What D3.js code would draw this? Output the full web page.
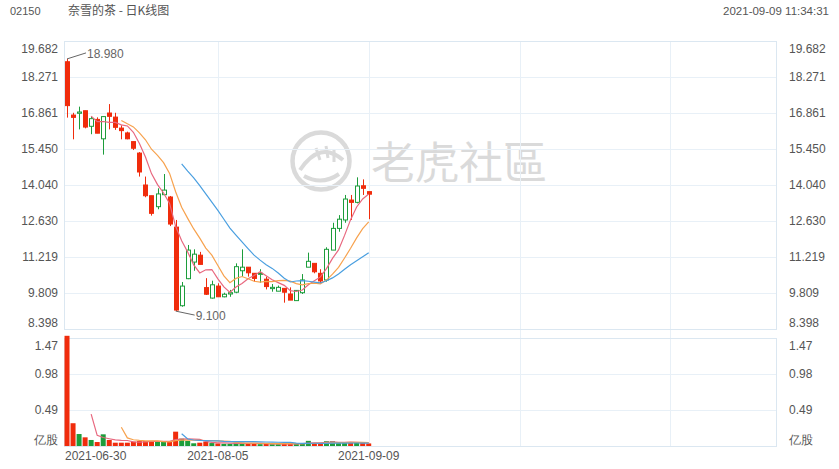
<!DOCTYPE html>
<html><head><meta charset="utf-8">
<script src="https://cdn.jsdelivr.net/npm/d3@7"></script>
<style>body{margin:0;background:#fff;} svg{display:block;font-family:"Liberation Sans",Arial,sans-serif;}</style>
</head><body><svg id="c" width="839" height="469"></svg>
<script>
const dates = ["2021-06-30",
 "2021-07-02","2021-07-05","2021-07-06","2021-07-07","2021-07-08","2021-07-09","2021-07-12","2021-07-13","2021-07-14","2021-07-15","2021-07-16","2021-07-19","2021-07-20","2021-07-21","2021-07-22","2021-07-23","2021-07-26","2021-07-27","2021-07-28","2021-07-29","2021-07-30",
 "2021-08-02","2021-08-03","2021-08-04","2021-08-05","2021-08-06","2021-08-09","2021-08-10","2021-08-11","2021-08-12","2021-08-13","2021-08-16","2021-08-17","2021-08-18","2021-08-19","2021-08-20","2021-08-23","2021-08-24","2021-08-25","2021-08-26","2021-08-27","2021-08-30","2021-08-31",
 "2021-09-01","2021-09-02","2021-09-03","2021-09-06","2021-09-07","2021-09-08","2021-09-09"];
const open  = [18.87,16.78,16.85,16.95,16.34,16.61,15.85,16.86,16.70,16.27,16.08,15.74,15.29,14.04,13.62,13.19,13.66,13.57,12.39,9.31,10.37,11.02,11.29,10.02,9.61,10.08,9.66,9.77,9.84,10.68,10.82,10.58,10.54,10.35,9.98,9.88,9.99,9.77,9.51,9.82,10.82,10.97,10.58,10.32,11.49,12.34,12.67,13.45,13.36,14.01,13.78];
const high  = [18.98,16.87,17.11,16.95,16.72,16.69,16.74,17.21,16.87,16.38,16.13,15.74,15.33,14.37,13.62,13.91,14.47,13.61,12.67,10.24,11.69,11.52,11.42,10.39,10.29,10.19,9.82,9.93,10.97,11.52,10.82,10.58,10.74,10.45,10.16,10.10,9.99,10.03,9.91,10.55,11.39,10.97,10.74,11.60,12.56,12.86,13.65,13.65,14.34,14.26,13.78];
const low   = [16.68,15.83,16.22,16.26,16.03,16.07,15.23,16.22,16.20,15.83,15.83,15.41,14.37,13.56,12.84,13.09,13.66,12.43,9.10,9.27,10.35,10.68,10.93,9.73,9.59,9.66,9.64,9.66,9.80,10.45,10.45,10.25,10.21,9.95,9.86,9.88,9.43,9.53,9.51,9.77,10.82,10.58,10.19,10.25,11.49,12.21,12.56,12.67,13.32,13.65,12.70];
const close = [17.15,16.69,16.90,16.31,16.64,16.07,16.72,16.73,16.30,16.17,15.85,15.48,14.55,13.62,12.93,13.69,13.84,12.51,9.14,10.08,11.49,11.33,10.93,9.76,10.13,9.66,9.76,9.82,10.84,10.82,10.60,10.38,10.58,10.06,10.03,10.03,9.84,9.53,9.91,10.32,11.05,10.64,10.28,11.52,12.34,12.70,13.49,13.36,14.00,13.91,13.68];
const volume = [1.50,0.31,0.163,0.118,0.082,0.054,0.159,0.082,0.045,0.045,0.045,0.059,0.068,0.068,0.068,0.059,0.054,0.064,0.195,0.10,0.068,0.037,0.045,0.059,0.04,0.035,0.03,0.03,0.045,0.045,0.035,0.03,0.025,0.03,0.025,0.025,0.035,0.03,0.03,0.04,0.07,0.04,0.035,0.065,0.065,0.04,0.05,0.045,0.05,0.04,0.035];
const priceTicks = [8.398, 9.809, 11.219, 12.630, 14.040, 15.450, 16.861, 18.271, 19.682];
const volTicks = [0, 0.49, 0.98, 1.47];
const dateTicks = ["2021-06-30","2021-08-05","2021-09-09"];
const maPeriods = [5, 10, 20];
const maColors = ["#e8687f", "#f7a24e", "#4a9fe0"];
const totalSlots = 118;
const extraGridSlots = [75, 100];
const highLabel = "18.980", lowLabel = "9.100";

const UP = "#1c9d3b", DOWN = "#f02c0c", TXT = "#555", GRID = "#e8f0f7", BORDER = "#dbe7f1";
const L = 64, R = 776, PT = 41, PB = 329, VT = 338, VB = 446;
const svg = d3.select("#c");

// watermark
const wm = svg.append("g").attr("fill", "none").attr("stroke", "#dadada");
wm.append("circle").attr("cx", 321).attr("cy", 161).attr("r", 28.5).attr("stroke-width", 4.5);
wm.append("path").attr("d", "M300,170 Q320,140 343,160").attr("stroke-width", 4);
wm.append("path").attr("d", "M304,176 Q322,186 339,174").attr("stroke-width", 4);
wm.append("path").attr("d", "M316,148 L320,160 M326,146 L328,158 M334,150 L334,162").attr("stroke-width", 3);
svg.append("text").attr("x", 371).attr("y", 179).attr("font-size", 44)
  .attr("font-family", "'Noto Sans CJK TC','Noto Sans CJK SC',sans-serif")
  .attr("fill", "#dadada").text("老虎社區");

const x = d3.scaleBand().domain(d3.range(totalSlots)).range([L, R]);
const cx = i => x(i) + x.bandwidth() / 2;
const y = d3.scaleLinear().domain([priceTicks[0], priceTicks[priceTicks.length - 1]]).range([PB, PT]);
const yv = d3.scaleLinear().domain([0, volTicks[volTicks.length - 1]]).range([VB, VT]);

// grid
const g = svg.append("g").attr("shape-rendering", "crispEdges");
g.selectAll(".hp").data(priceTicks).join("line")
  .attr("x1", L).attr("x2", R).attr("y1", d => Math.round(y(d)) + 0.5).attr("y2", d => Math.round(y(d)) + 0.5)
  .attr("stroke", GRID);
g.selectAll(".hv").data(volTicks).join("line")
  .attr("x1", L).attr("x2", R).attr("y1", d => Math.round(yv(d)) + 0.5).attr("y2", d => Math.round(yv(d)) + 0.5)
  .attr("stroke", GRID);
const vgrid = dateTicks.slice(1).map(d => dates.indexOf(d)).concat(extraGridSlots);
g.selectAll(".vg").data(vgrid).join("line")
  .attr("x1", d => Math.round(cx(d)) + 0.5).attr("x2", d => Math.round(cx(d)) + 0.5)
  .attr("y1", PT).attr("y2", VB).attr("stroke", GRID);
g.append("rect").attr("x", L + 0.5).attr("y", PT + 0.5).attr("width", R - L).attr("height", PB - PT).attr("fill", "none").attr("stroke", BORDER);
g.append("rect").attr("x", L + 0.5).attr("y", VT + 0.5).attr("width", R - L).attr("height", VB - VT).attr("fill", "none").attr("stroke", BORDER);

// axes
function styleAxis(sel) {
  sel.select(".domain").remove();
  sel.selectAll("line").remove();
  sel.selectAll("text").attr("fill", TXT).attr("font-size", 12).attr("font-family", "'Liberation Sans',Arial,sans-serif");
}
function priceAxis(axis, xpos) {
  const a = svg.append("g").attr("transform", `translate(${xpos},0)`).call(axis.tickValues(priceTicks).tickSize(0).tickFormat(d3.format(".3f")));
  styleAxis(a);
  a.selectAll("text").attr("dy", (d, i) => i === priceTicks.length - 1 ? "0.95em" : (i === 0 ? "-0.2em" : "0.32em"));
}
priceAxis(d3.axisLeft(y).tickPadding(6), L);
priceAxis(d3.axisRight(y).tickPadding(13), R);
function volAxis(axis, xpos) {
  const a = svg.append("g").attr("transform", `translate(${xpos},0)`).call(axis.tickValues(volTicks).tickSize(0).tickFormat(d => d === 0 ? "亿股" : d3.format(".2f")(d)));
  styleAxis(a);
  a.selectAll("text").attr("dy", (d, i) => i === volTicks.length - 1 ? "0.95em" : (i === 0 ? "-0.25em" : "0.32em"));
}
volAxis(d3.axisLeft(yv).tickPadding(6), L);
volAxis(d3.axisRight(yv).tickPadding(13), R);

// date labels
svg.selectAll(".dl").data(dateTicks).join("text")
  .attr("x", (d, i) => i === 0 ? L + 1 : cx(dates.indexOf(d)))
  .attr("text-anchor", (d, i) => i === 0 ? "start" : "middle")
  .attr("y", 460).attr("font-size", 12).attr("fill", TXT).text(d => d);

// header
svg.append("text").attr("x", 10).attr("y", 15).attr("font-size", 11).attr("fill", TXT).text("02150");
svg.append("text").attr("x", 68).attr("y", 15).attr("font-size", 12).attr("fill", TXT)
  .attr("font-family", "'Noto Sans CJK SC',sans-serif").text("奈雪的茶 - 日K线图");
svg.append("text").attr("x", 829).attr("y", 15).attr("font-size", 11.5).attr("fill", TXT).attr("text-anchor", "end").text("2021-09-09 11:34:31");

const idx = d3.range(dates.length);
const isUp = i => close[i] >= open[i];
const bw = 4;

// volume bars
svg.append("g").selectAll("rect").data(idx).join("rect")
  .attr("x", i => cx(i) - bw / 2 - 0.5).attr("width", bw + 1)
  .attr("y", i => yv(volume[i])).attr("height", i => VB - yv(volume[i]))
  .attr("fill", i => isUp(i) ? UP : DOWN);

// candles
const cg = svg.append("g");
cg.selectAll("line").data(idx).join("line")
  .attr("x1", i => Math.round(cx(i)) + 0.5).attr("x2", i => Math.round(cx(i)) + 0.5)
  .attr("y1", i => y(high[i])).attr("y2", i => y(low[i]))
  .attr("stroke", i => isUp(i) ? UP : DOWN).attr("stroke-width", 1);
cg.selectAll("rect").data(idx).join("rect")
  .attr("x", i => Math.round(cx(i)) - bw / 2 + 0.5).attr("width", bw)
  .attr("y", i => y(Math.max(open[i], close[i])))
  .attr("height", i => Math.max(1, Math.abs(y(open[i]) - y(close[i]))))
  .attr("fill", i => isUp(i) ? "#fff" : DOWN)
  .attr("stroke", i => isUp(i) ? UP : DOWN).attr("stroke-width", 1);

// moving averages
function ma(arr, n) { return arr.map((_, i) => i < n - 1 ? null : d3.mean(arr.slice(i - n + 1, i + 1))); }
maPeriods.forEach((n, k) => {
  const pm = ma(close, n), vm = ma(volume, n);
  const lp = d3.line().defined(d => d[1] != null).x(d => cx(d[0])).y(d => y(d[1]));
  const lv = d3.line().defined(d => d[1] != null).x(d => cx(d[0])).y(d => yv(d[1]));
  svg.append("path").attr("d", lp(pm.map((v, i) => [i, v]))).attr("fill", "none").attr("stroke", maColors[k]).attr("stroke-width", 1.2);
  svg.append("path").attr("d", lv(vm.map((v, i) => [i, v]))).attr("fill", "none").attr("stroke", maColors[k]).attr("stroke-width", 1.2);
});

// high / low annotations
const hi = d3.maxIndex(high), lo = d3.minIndex(low);
svg.append("line").attr("x1", cx(hi)).attr("y1", y(high[hi])).attr("x2", cx(hi) + 19).attr("y2", y(high[hi]) - 6).attr("stroke", "#666");
svg.append("text").attr("x", cx(hi) + 20).attr("y", y(high[hi]) - 1).attr("font-size", 12).attr("fill", "#666").text(highLabel);
svg.append("line").attr("x1", cx(lo)).attr("y1", y(low[lo])).attr("x2", cx(lo) + 19).attr("y2", y(low[lo]) + 4).attr("stroke", "#666");
svg.append("text").attr("x", cx(lo) + 20).attr("y", y(low[lo]) + 8.5).attr("font-size", 12).attr("fill", "#666").text(lowLabel);
</script></body></html>
